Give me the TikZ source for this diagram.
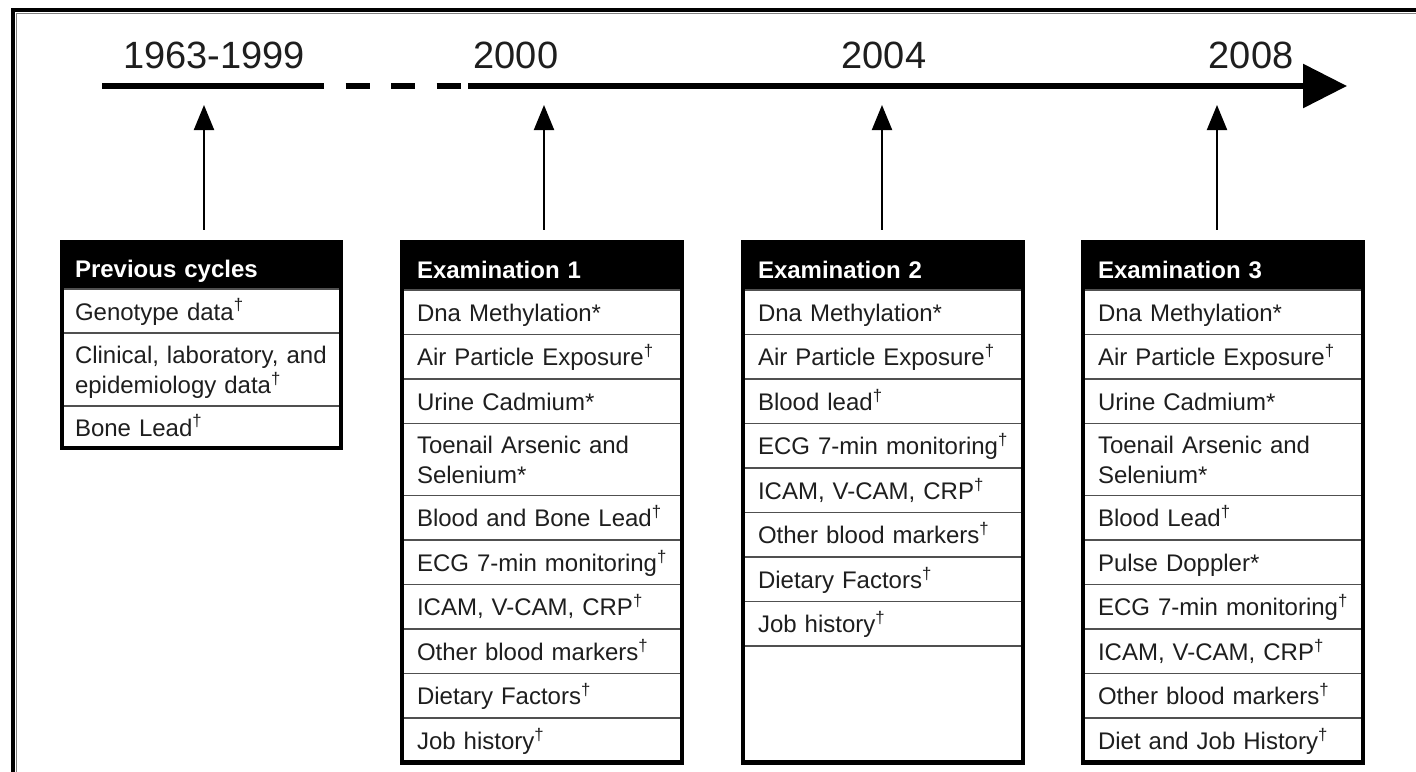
\documentclass[tikz,border=0pt]{standalone}
\usepackage{fontspec}
\setmainfont{Liberation Sans}
\usetikzlibrary{arrows.meta,fit}
\definecolor{ink}{HTML}{1E1E1E}
\definecolor{rule}{HTML}{505050}
\newcommand\cellfont{\fontsize{24}{27}\selectfont}
\newcommand\yearfont{\fontsize{38}{44}\selectfont}
\newcommand\dg{\smash{\textsuperscript{\textdagger}}}
% struts that fix where the baselines sit inside each row
\newcommand\cellstrut{\rule[-5.5pt]{0pt}{29pt}}
\newcommand\headstrut{\rule[-5.5pt]{0pt}{35pt}}

\begin{document}
\begin{tikzpicture}[x=1pt,y=-1pt,
  cell/.style={draw=rule, line width=1.6pt, anchor=north west, outer sep=0pt,
    minimum width=279pt, text width=250pt, inner xsep=15pt, inner ysep=0pt,
    align=left, font=\cellfont, text=ink, minimum height=44.5pt,
    execute at begin node=\cellstrut, execute at end node=\cellstrut},
  tall/.style={minimum height=72pt},
  headcell/.style={cell, fill=black, draw=black, text=white,
    font=\cellfont\bfseries, minimum height=48pt,
    execute at begin node=\headstrut, execute at end node=\headstrut},
  frame/.style={draw=black, line width=4.5pt, inner sep=0pt},
  year/.style={font=\yearfont, text=ink, anchor=base},
  axis/.style={line width=6pt, black},
  tick/.style={line width=2pt, -{Triangle[length=25pt,width=20pt]}, shorten <=10pt}
]
\clip (0,0) rectangle (1416,771);
\fill[white] (0,0) rectangle (1416,771);

% outer border (top and left edges)
\draw[line width=4pt] (13,780) -- (13,10) -- (1430,10);
\draw[gray, line width=1.5pt] (16.5,780) -- (16.5,13.5) -- (1430,13.5);

% time axis
\coordinate (a0) at (102,86);
\coordinate (a1) at (300,86);
\coordinate (a2) at (468,86);
\coordinate (a3) at (1347,86);
\draw[axis] (a0) -- (a1);
\draw[axis, dash pattern=on 24pt off 21.5pt] (a1) -- (a2);
\draw[axis, -{Triangle[length=44pt,width=43pt]}] (a2) -- (a3);

% year labels
\node[year] (y0) at (214,68) {1963-1999};
\node[year] (y1) at (516,68) {2000};
\node[year] (y2) at (884,68) {2004};
\node[year] (y3) at (1251,68) {2008};

% arrow tips under the axis
\coordinate (tk0) at (204,105);
\coordinate (tk1) at (544,105);
\coordinate (tk2) at (882,105);
\coordinate (tk3) at (1217,105);

% previous cycles
\node[headcell, minimum height=47pt, inner xsep=13pt, text width=253pt] (p0) at (62,242) {Previous cycles};
\node[cell, minimum height=44pt, inner xsep=13pt, text width=253pt] (p1) at (p0.south west) {Genotype data\dg};
\node[cell, minimum height=73pt, inner xsep=13pt, text width=253pt] (p2) at (p1.south west) {Clinical, laboratory, and\\epidemiology data\dg};
\node[cell, minimum height=42pt, inner xsep=13pt, text width=253pt] (p3) at (p2.south west) {Bone Lead\dg};
\node[frame, fit=(p0)(p3)] (prev) {};

% examination 1
\node[headcell] (e1h) at (402,242) {Examination 1};
\node[cell] (e1r1) at (e1h.south west) {Dna Methylation*};
\node[cell] (e1r2) at (e1r1.south west) {Air Particle Exposure\dg};
\node[cell] (e1r3) at (e1r2.south west) {Urine Cadmium*};
\node[cell, tall] (e1r4) at (e1r3.south west) {Toenail Arsenic and\\Selenium*};
\node[cell] (e1r5) at (e1r4.south west) {Blood and Bone Lead\dg};
\node[cell] (e1r6) at (e1r5.south west) {ECG 7-min monitoring\dg};
\node[cell] (e1r7) at (e1r6.south west) {ICAM, V-CAM, CRP\dg};
\node[cell] (e1r8) at (e1r7.south west) {Other blood markers\dg};
\node[cell] (e1r9) at (e1r8.south west) {Dietary Factors\dg};
\node[cell] (e1r10) at (e1r9.south west) {Job history\dg};
\node[frame, fit=(e1h)(e1r10)] (exam1) {};

% examination 2
\node[headcell] (e2h) at (743,242) {Examination 2};
\node[cell] (e2r1) at (e2h.south west) {Dna Methylation*};
\node[cell] (e2r2) at (e2r1.south west) {Air Particle Exposure\dg};
\node[cell] (e2r3) at (e2r2.south west) {Blood lead\dg};
\node[cell] (e2r4) at (e2r3.south west) {ECG 7-min monitoring\dg};
\node[cell] (e2r5) at (e2r4.south west) {ICAM, V-CAM, CRP\dg};
\node[cell] (e2r6) at (e2r5.south west) {Other blood markers\dg};
\node[cell] (e2r7) at (e2r6.south west) {Dietary Factors\dg};
\node[cell] (e2r8) at (e2r7.south west) {Job history\dg};
\node[cell, minimum height=116.5pt] (e2r9) at (e2r8.south west) {};
\node[frame, fit=(e2h)(e2r9)] (exam2) {};

% examination 3
\node[headcell] (e3h) at (1083,242) {Examination 3};
\node[cell] (e3r1) at (e3h.south west) {Dna Methylation*};
\node[cell] (e3r2) at (e3r1.south west) {Air Particle Exposure\dg};
\node[cell] (e3r3) at (e3r2.south west) {Urine Cadmium*};
\node[cell, tall] (e3r4) at (e3r3.south west) {Toenail Arsenic and\\Selenium*};
\node[cell] (e3r5) at (e3r4.south west) {Blood Lead\dg};
\node[cell] (e3r6) at (e3r5.south west) {Pulse Doppler*};
\node[cell] (e3r7) at (e3r6.south west) {ECG 7-min monitoring\dg};
\node[cell] (e3r8) at (e3r7.south west) {ICAM, V-CAM, CRP\dg};
\node[cell] (e3r9) at (e3r8.south west) {Other blood markers\dg};
\node[cell] (e3r10) at (e3r9.south west) {Diet and Job History\dg};
\node[frame, fit=(e3h)(e3r10)] (exam3) {};

% arrows from each block up to the axis
\draw[tick] (prev.north -| tk0) -- (tk0);
\draw[tick] (exam1.north -| tk1) -- (tk1);
\draw[tick] (exam2.north -| tk2) -- (tk2);
\draw[tick] (exam3.north -| tk3) -- (tk3);
\end{tikzpicture}
\end{document}
